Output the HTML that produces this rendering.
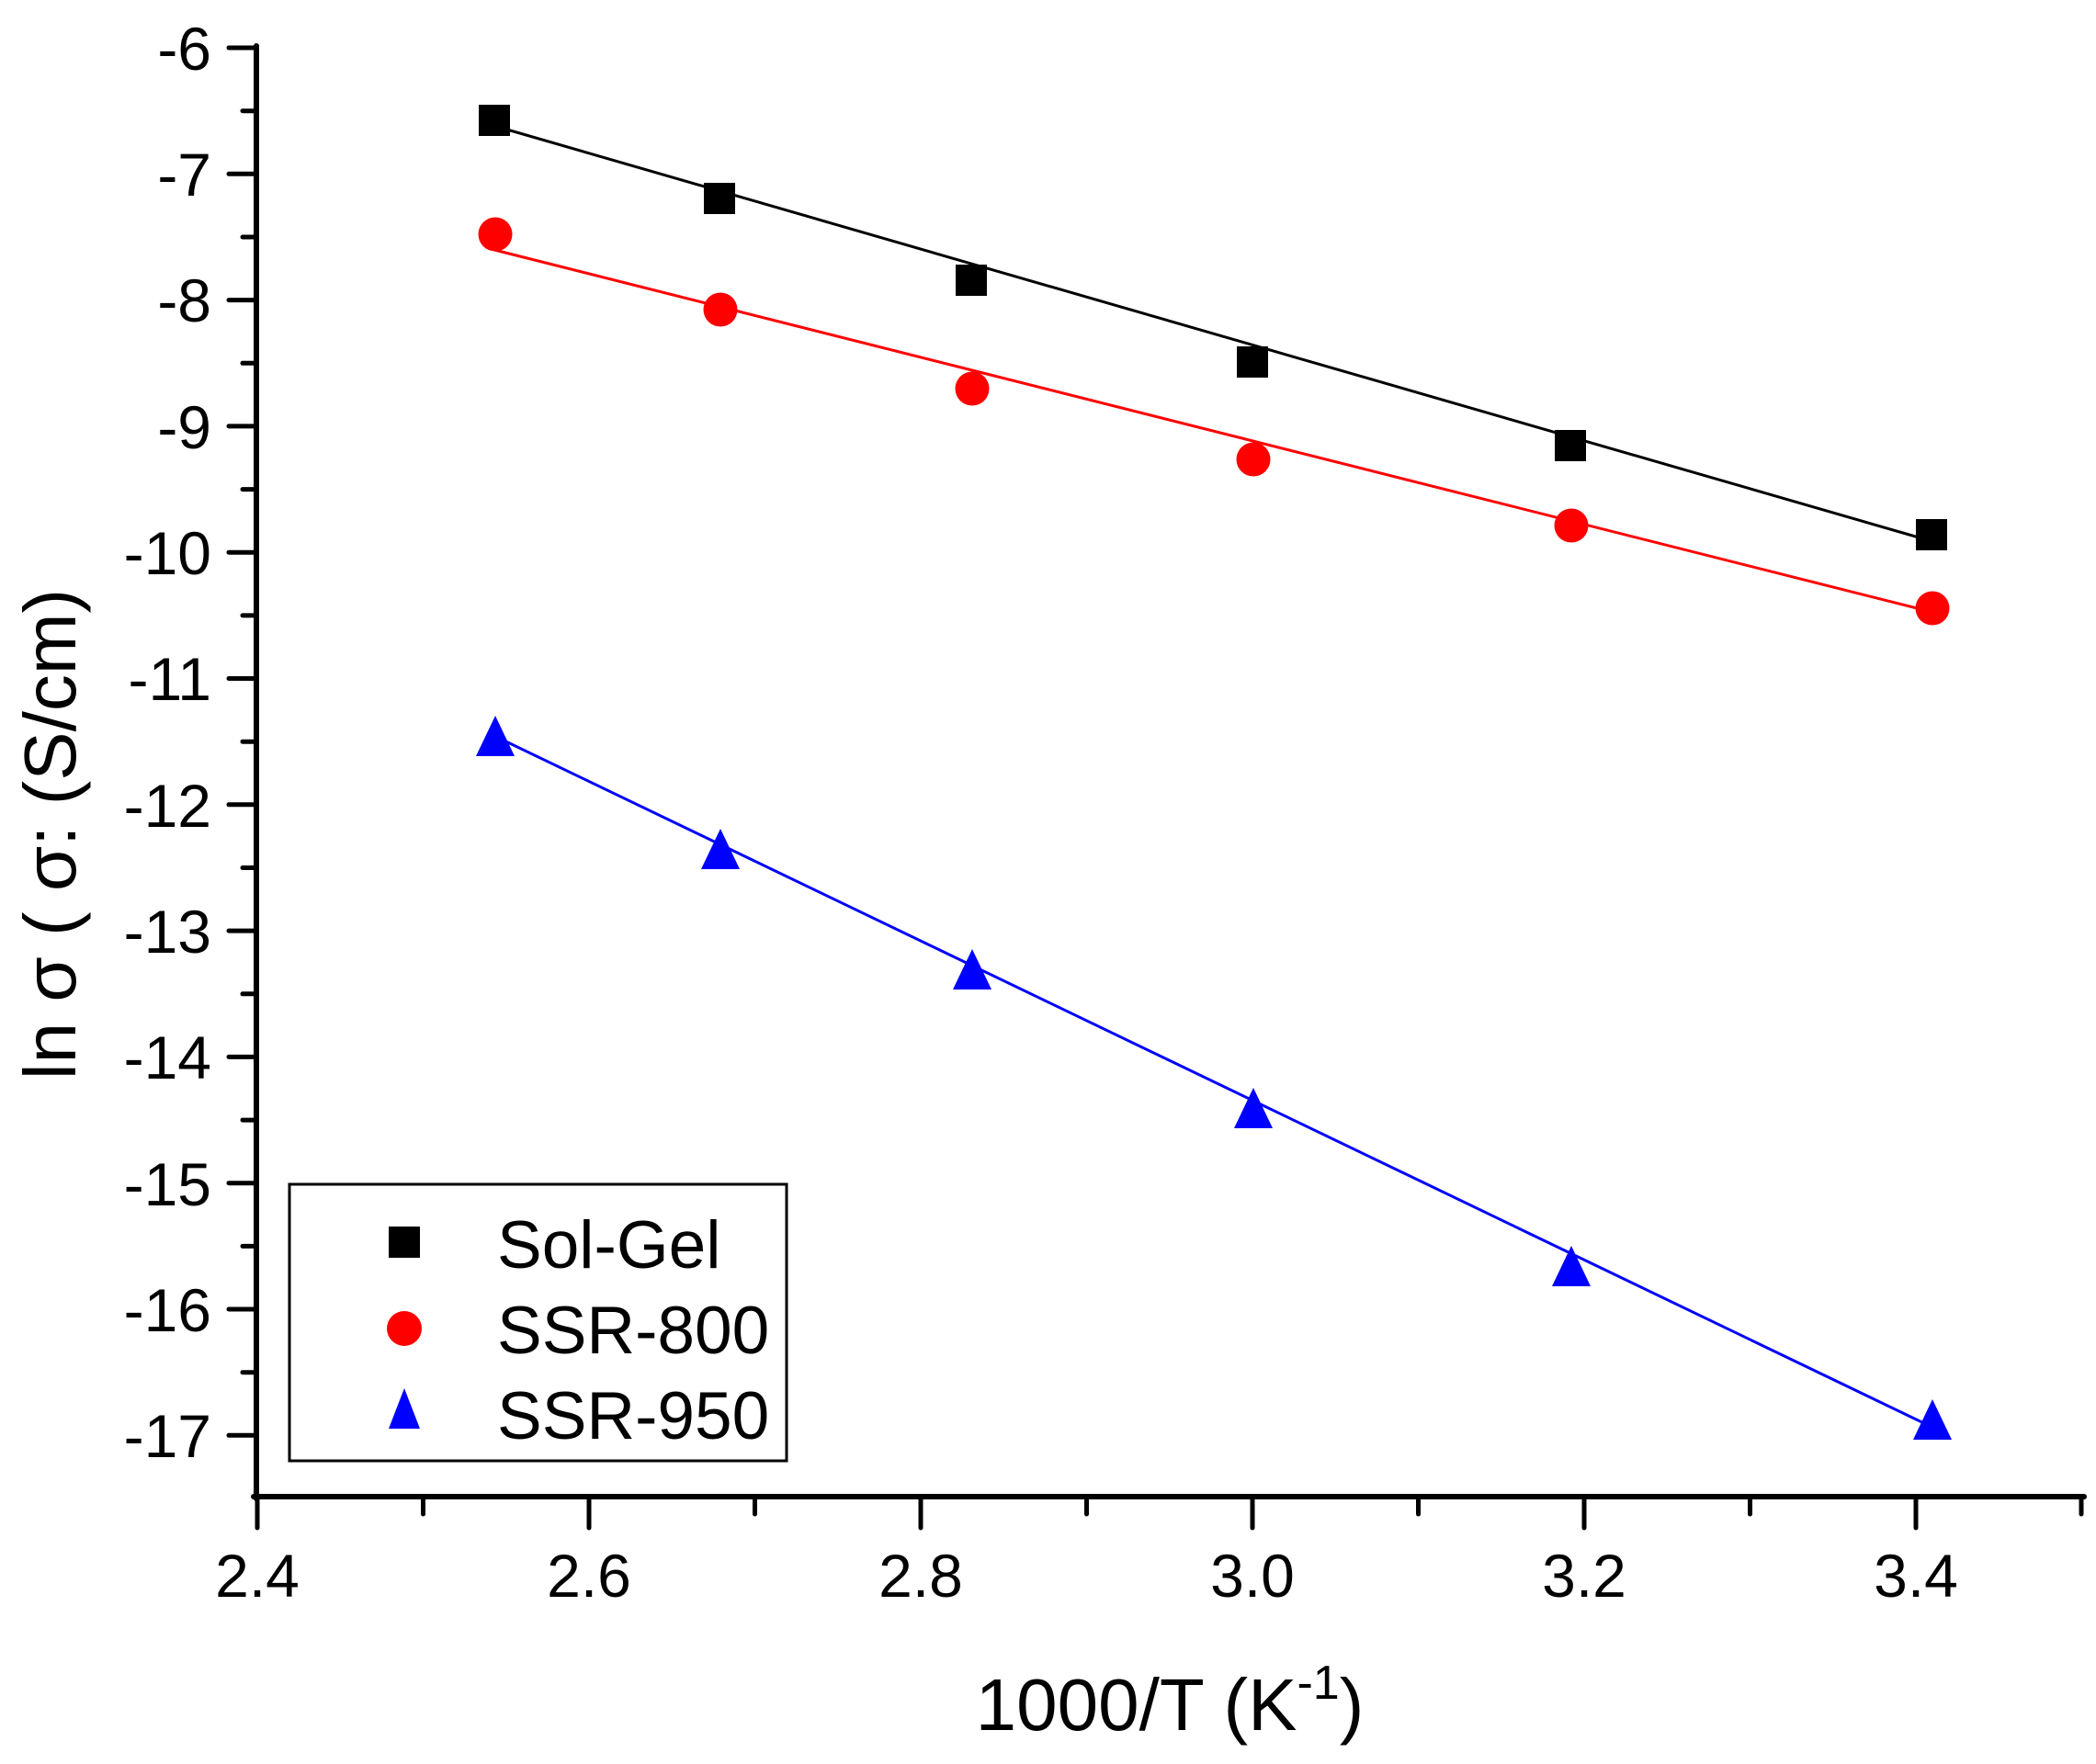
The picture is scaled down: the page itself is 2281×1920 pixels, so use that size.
<!DOCTYPE html>
<html><head><meta charset="utf-8"><style>html,body{margin:0;padding:0;background:#fff}svg{display:block}</style></head>
<body>
<svg width="2281" height="1920" viewBox="0 0 2281 1920" xmlns="http://www.w3.org/2000/svg" font-family="Liberation Sans, Arial, sans-serif">
<rect width="2281" height="1920" fill="#fff"/>
<g stroke="#000" stroke-width="5" stroke-linecap="round">
<line x1="279" y1="50" x2="279" y2="1631" stroke-width="6"/>
<line x1="276" y1="1629" x2="2268" y2="1629" stroke-width="6"/>
<line x1="249" y1="52" x2="279" y2="52"/><line x1="264" y1="120.7" x2="279" y2="120.7"/>
<line x1="249" y1="189.3" x2="279" y2="189.3"/><line x1="264" y1="258" x2="279" y2="258"/>
<line x1="249" y1="326.6" x2="279" y2="326.6"/><line x1="264" y1="395.3" x2="279" y2="395.3"/>
<line x1="249" y1="463.9" x2="279" y2="463.9"/><line x1="264" y1="532.6" x2="279" y2="532.6"/>
<line x1="249" y1="601.2" x2="279" y2="601.2"/><line x1="264" y1="669.9" x2="279" y2="669.9"/>
<line x1="249" y1="738.5" x2="279" y2="738.5"/><line x1="264" y1="807.2" x2="279" y2="807.2"/>
<line x1="249" y1="875.8" x2="279" y2="875.8"/><line x1="264" y1="944.5" x2="279" y2="944.5"/>
<line x1="249" y1="1013.1" x2="279" y2="1013.1"/><line x1="264" y1="1081.8" x2="279" y2="1081.8"/>
<line x1="249" y1="1150.4" x2="279" y2="1150.4"/><line x1="264" y1="1219.1" x2="279" y2="1219.1"/>
<line x1="249" y1="1287.7" x2="279" y2="1287.7"/><line x1="264" y1="1356.4" x2="279" y2="1356.4"/>
<line x1="249" y1="1425" x2="279" y2="1425"/><line x1="264" y1="1493.7" x2="279" y2="1493.7"/>
<line x1="249" y1="1562.3" x2="279" y2="1562.3"/>
<line x1="280" y1="1629" x2="280" y2="1663"/><line x1="460.5" y1="1629" x2="460.5" y2="1648"/>
<line x1="641" y1="1629" x2="641" y2="1663"/><line x1="821.5" y1="1629" x2="821.5" y2="1648"/>
<line x1="1002" y1="1629" x2="1002" y2="1663"/><line x1="1182.5" y1="1629" x2="1182.5" y2="1648"/>
<line x1="1363" y1="1629" x2="1363" y2="1663"/><line x1="1543.5" y1="1629" x2="1543.5" y2="1648"/>
<line x1="1724" y1="1629" x2="1724" y2="1663"/><line x1="1904.5" y1="1629" x2="1904.5" y2="1648"/>
<line x1="2085" y1="1629" x2="2085" y2="1663"/><line x1="2265" y1="1629" x2="2265" y2="1648"/>
</g>
<g font-size="66" text-anchor="end" fill="#000">
<text x="230" y="76">-6</text><text x="230" y="213">-7</text><text x="230" y="350">-8</text>
<text x="230" y="488">-9</text><text x="230" y="625">-10</text><text x="230" y="762">-11</text>
<text x="230" y="900">-12</text><text x="230" y="1037">-13</text><text x="230" y="1174">-14</text>
<text x="230" y="1312">-15</text><text x="230" y="1449">-16</text><text x="230" y="1586">-17</text>
</g>
<g font-size="66" text-anchor="middle" fill="#000">
<text x="280" y="1738">2.4</text><text x="641" y="1738">2.6</text><text x="1002" y="1738">2.8</text>
<text x="1363" y="1738">3.0</text><text x="1724" y="1738">3.2</text><text x="2085" y="1738">3.4</text>
</g>
<text x="1273" y="1883" font-size="80" text-anchor="middle">1000/T (K<tspan font-size="52" dy="-34">-1</tspan><tspan dy="34">)</tspan></text>
<text transform="translate(82,908) rotate(-90)" font-size="80" text-anchor="middle">ln σ ( σ: (S/cm)</text>
<line x1="538" y1="137" x2="2102" y2="589" stroke="#000" stroke-width="3"/>
<line x1="538" y1="272" x2="2102" y2="666" stroke="#f00" stroke-width="3"/>
<line x1="538" y1="801" x2="2102" y2="1553" stroke="#00f" stroke-width="3"/>
<g fill="#000">
<rect x="521" y="114" width="34" height="34"/><rect x="766" y="199" width="34" height="34"/>
<rect x="1040" y="288" width="34" height="34"/><rect x="1346" y="377" width="34" height="34"/>
<rect x="1692" y="468" width="34" height="34"/><rect x="2085" y="565" width="34" height="34"/>
</g>
<g fill="#f00">
<circle cx="539" cy="255" r="18.5"/><circle cx="784" cy="337" r="18.5"/>
<circle cx="1058" cy="423" r="18.5"/><circle cx="1364" cy="500" r="18.5"/>
<circle cx="1710" cy="572" r="18.5"/><circle cx="2103" cy="662" r="18.5"/>
</g>
<g fill="#00f">
<polygon points="539,779 518,823 560,823"/><polygon points="784,902 763,946 805,946"/>
<polygon points="1058,1033 1037,1077 1079,1077"/><polygon points="1364,1184 1343,1228 1385,1228"/>
<polygon points="1710,1356 1689,1400 1731,1400"/><polygon points="2103,1523 2082,1567 2124,1567"/>
</g>
<rect x="315" y="1289" width="541" height="301" fill="none" stroke="#000" stroke-width="3"/>
<rect x="423" y="1335" width="34" height="34" fill="#000"/>
<circle cx="440" cy="1446" r="19" fill="#f00"/>
<polygon points="440,1511 423,1555 457,1555" fill="#00f"/>
<g font-size="73" fill="#000">
<text x="541" y="1380">Sol-Gel</text>
<text x="541" y="1473">SSR-800</text>
<text x="541" y="1566">SSR-950</text>
</g>
</svg>
</body></html>
